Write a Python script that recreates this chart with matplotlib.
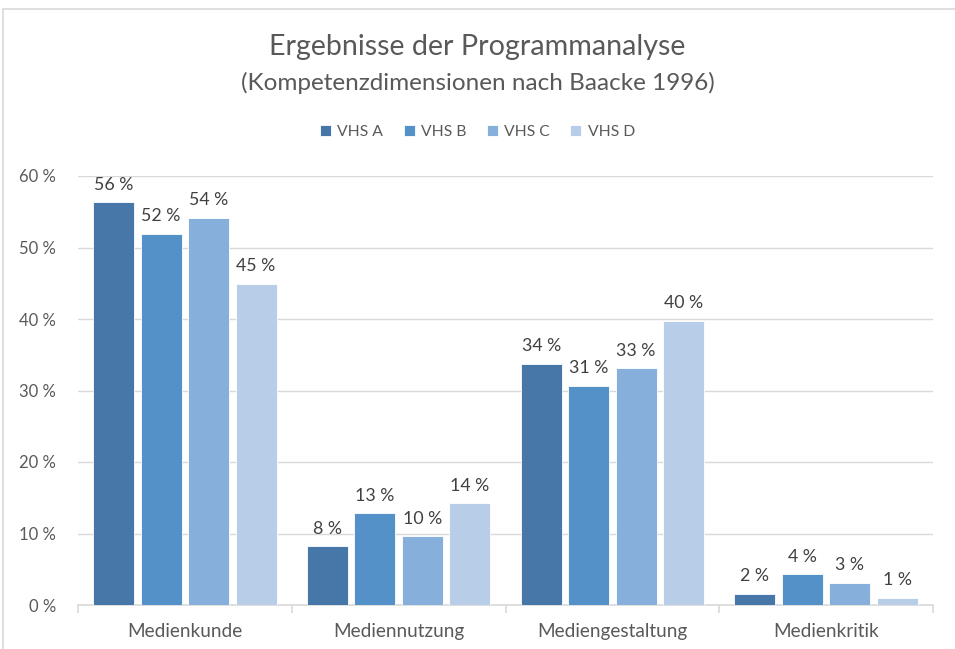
import matplotlib.pyplot as plt
import matplotlib.patches as mpatches
import numpy as np

categories = ["Medienkunde", "Mediennutzung", "Mediengestaltung", "Medienkritik"]
series = ["VHS A", "VHS B", "VHS C", "VHS D"]
vhs_a = [56.3, 8.2, 33.7, 1.6]
vhs_b = [51.9, 12.8, 30.6, 4.3]
vhs_c = [54.1, 9.6, 33.1, 3.1]
vhs_d = [44.9, 14.2, 39.7, 1.0]
yticks = [0, 10, 20, 30, 40, 50, 60]

colors = ["#4677A8", "#5591C9", "#86AFDC", "#B8CDE8"]
txt = "#595959"
plt.rcParams['font.family'] = ['Lato', 'DejaVu Sans']

fig = plt.figure(figsize=(9.55, 6.49), dpi=100)
ax = fig.add_axes([78 / 955, 1 - 605 / 649, (933 - 78) / 955, (605 - 176) / 649])

# chart frame
fig.patches.append(mpatches.Rectangle((3 / 955, -0.1), 1.2, 1 - 9 / 649 + 0.1,
                                      transform=fig.transFigure, fill=False,
                                      edgecolor="#D9D9D9", lw=1.2))

x = np.arange(len(categories))
step = 0.222
w = 0.192
for i, (name, vals) in enumerate(zip(series, [vhs_a, vhs_b, vhs_c, vhs_d])):
    pos = x + (i - 1.5) * step
    bars = ax.bar(pos, vals, w, color=colors[i], label=name, zorder=3,
                  edgecolor="white", linewidth=0.6)
    for b, v in zip(bars, vals):
        ax.annotate("{:.0f} %".format(v), (b.get_x() + b.get_width() / 2, v),
                    xytext=(0, 7), textcoords="offset points", ha="center",
                    va="bottom", fontsize=12.8, color="#404040")

ax.set_xlim(-0.5, 3.5)
ax.set_ylim(0, 60)
ax.set_yticks(yticks)
ax.set_yticklabels(["{} %".format(t) for t in yticks], fontsize=12, color=txt)
ax.yaxis.grid(True, color="#D9D9D9", lw=1, zorder=0)
ax.tick_params(axis="y", length=0, pad=16)
ax.set_xticks(x)
ax.set_xticklabels(categories, fontsize=13.7, color=txt)
ax.set_xticks(np.arange(-0.5, 4, 1), minor=True)
ax.tick_params(axis="x", which="major", length=0, pad=13)
ax.tick_params(axis="x", which="minor", length=6, color="#D9D9D9", width=1.2)
for s in ["top", "right", "left"]:
    ax.spines[s].set_visible(False)
ax.spines["bottom"].set_color("#D9D9D9")
ax.spines["bottom"].set_linewidth(1.2)

fig.text(0.5, 1 - 47 / 649, "Ergebnisse der Programmanalyse", ha="center",
         va="center", fontsize=20.6, color=txt)
fig.text(0.5, 1 - 83 / 649, "(Kompetenzdimensionen nach Baacke 1996)", ha="center",
         va="center", fontsize=17.5, color=txt)
fig.legend(loc="center", bbox_to_anchor=(0.5, 1 - 132 / 649), ncol=4, frameon=False,
           fontsize=11.3, handlelength=0.7, handleheight=0.7, handletextpad=0.4,
           columnspacing=1.3, labelcolor=txt)

fig.savefig("out.png", dpi=100)
